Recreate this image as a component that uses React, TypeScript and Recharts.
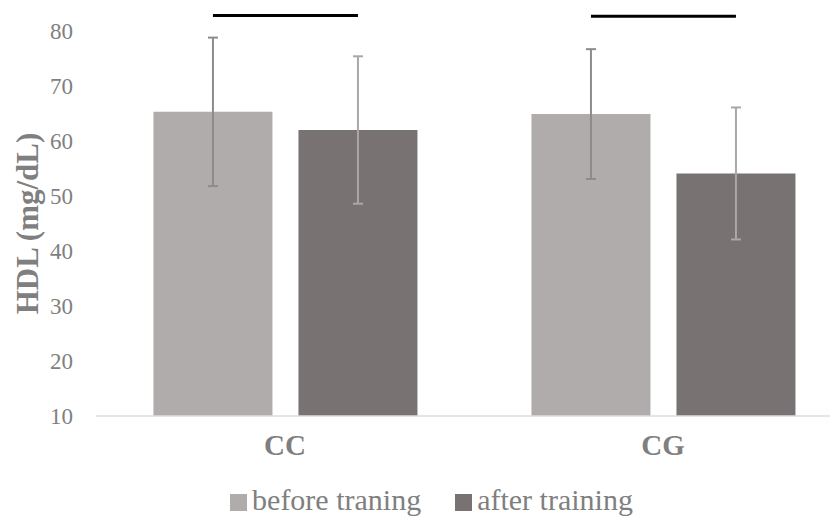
import { BarChart, Bar, XAxis, YAxis, ErrorBar, Legend } from 'recharts';

const categories = ['CC', 'CG'];
const beforeTraining = [65.3, 64.9];
const afterTraining = [62.0, 54.1];
const beforeErr = [13.5, 11.8];
const afterErr = [13.4, 12.0];
// height of the black bar over each group
const sigLevel = [82.8, 82.7];
const yTicks = [10, 20, 30, 40, 50, 60, 70, 80];

const seriesNames = ['before traning', 'after training'];
const seriesColors = ['#afacab', '#787372'];

const font = '"Liberation Serif", "Times New Roman", serif';
const textGray = '#7f7f7f';
const BAR_GAP = 26;

const data = categories.map((c, i) => ({
  name: c,
  before: beforeTraining[i],
  after: afterTraining[i],
  beforeErr: beforeErr[i],
  afterErr: afterErr[i],
}));

const renderSig = (props: any) => {
  const { x, y, width, height, value, index } = props;
  const bx = Number(x), by = Number(y), w = Number(width), h = Number(height);
  const perUnit = h / (Number(value) - 10);
  const ly = by - (sigLevel[index] - Number(value)) * perUnit;
  const x1 = bx + w / 2;
  const x2 = x1 + w + BAR_GAP;
  return <line key={'sig' + index} x1={x1} x2={x2} y1={ly} y2={ly} stroke="#000" strokeWidth={3} />;
};

const renderLegend = () => (
  <div
    style={{
      display: 'flex',
      justifyContent: 'center',
      gap: 34,
      fontFamily: font,
      fontSize: 30,
      lineHeight: '34px',
      color: textGray,
    }}
  >
    {seriesNames.map((n, i) => (
      <span key={n} style={{ display: 'flex', alignItems: 'center' }}>
        <span
          style={{
            display: 'inline-block',
            width: 17,
            height: 17,
            background: seriesColors[i],
            marginRight: 5,
            marginTop: 4,
          }}
        />
        {n}
      </span>
    ))}
  </div>
);

const App = () => {
  return (
    <div style={{ width: 830, height: 512, overflow: 'hidden' }}>
      <BarChart
        width={850}
        height={512}
        data={data}
        margin={{ top: 23, right: 6, left: 0, bottom: 20 }}
        barCategoryGap="15.2%"
        barGap={BAR_GAP}
      >
        <XAxis
          dataKey="name"
          axisLine={{ stroke: '#d9dee6', strokeWidth: 1.5 }}
          tickLine={false}
          tickSize={0}
          tickMargin={18}
          height={50}
          tick={{ fill: textGray, fontSize: 29, fontWeight: 'bold', fontFamily: font }}
        />
        <YAxis
          domain={[10, 80]}
          ticks={yTicks}
          width={88}
          axisLine={false}
          tickLine={false}
          tickSize={0}
          tickMargin={23}
          tick={{ fill: textGray, fontSize: 23, fontFamily: font }}
          label={{
            value: 'HDL (mg/dL)',
            angle: -90,
            position: 'center',
            dx: -25,
            style: { fill: textGray, fontSize: 31, fontWeight: 'bold', fontFamily: font },
          }}
        />
        <Legend
          verticalAlign="bottom"
          content={renderLegend}
          wrapperStyle={{ left: 0, width: 847, bottom: 3 }}
        />
        <Bar dataKey="before" name={seriesNames[0]} fill={seriesColors[0]} isAnimationActive={false} label={renderSig}>
          <ErrorBar dataKey="beforeErr" width={5} stroke="#8c8c8c" strokeWidth={2} isAnimationActive={false} />
        </Bar>
        <Bar dataKey="after" name={seriesNames[1]} fill={seriesColors[1]} isAnimationActive={false}>
          <ErrorBar dataKey="afterErr" width={5} stroke="#a8a8a8" strokeWidth={2} isAnimationActive={false} />
        </Bar>
      </BarChart>
    </div>
  );
};

export default App;
